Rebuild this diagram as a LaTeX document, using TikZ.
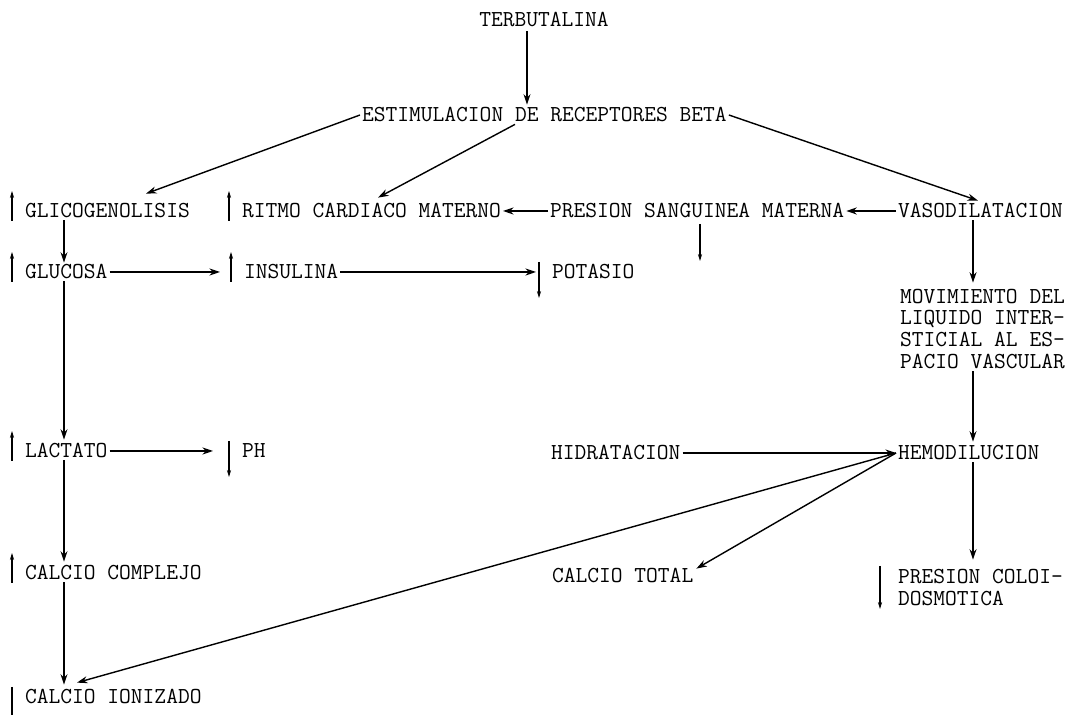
\documentclass[tikz,border=0pt]{standalone}
\usetikzlibrary{arrows.meta,calc}
\begin{document}
\begin{tikzpicture}[x=0.02cm, y=-0.02cm,
    every node/.style={font=\fontsize{13}{12.5}\selectfont\ttfamily, inner sep=1pt, anchor=west},
    flecha/.style={-{Stealth[length=6pt,width=4pt]}, line width=0.8pt},
    sube/.style={-{Stealth[length=4pt,width=2.4pt]}, line width=0.6pt},
    baja/.style={-{Stealth[length=4pt,width=2.4pt]}, line width=0.6pt}]
    \useasboundingbox (0,0) rectangle (1072,715);

    % Texts (left edge, middle of caps)
    \node[anchor=center] (terbu) at (544,20) {TERBUTALINA};
    \node (estim) at (360,115) {ESTIMULACION DE RECEPTORES BETA};
    \node (glico) at (23,211) {GLICOGENOLISIS};
    \node (ritmo) at (240,211) {RITMO CARDIACO MATERNO};
    \node (presion) at (548,211) {PRESION SANGUINEA MATERNA};
    \node (vaso) at (896,211) {VASODILATACION};
    \node (glucosa) at (23,272) {GLUCOSA};
    \node (insulina) at (242,272) {INSULINA};
    \node (potasio) at (550,272) {POTASIO};
    \node[align=left] (movim) at (898,329) {MOVIMIENTO DEL\\LIQUIDO INTER-\\STICIAL AL ES-\\PACIO VASCULAR};
    \node (lactato) at (23,451) {LACTATO};
    \node (ph) at (240,451) {PH};
    \node (hidra) at (549,453) {HIDRATACION};
    \node (hemo) at (896,453) {HEMODILUCION};
    \node (complejo) at (23,573) {CALCIO COMPLEJO};
    \node (total) at (550,576) {CALCIO TOTAL};
    \node[align=left] (coloi) at (896,588) {PRESION COLOI-\\DOSMOTICA};
    \node (ionizado) at (23,697) {CALCIO IONIZADO};

    % Arrows between texts
    \draw[flecha] ($(terbu.south)+(-17,2)$) -- ($(estim.north west)+(167,-1)$);
    \draw[flecha] (estim.west) -- ($(glico.north west)+(123,-8)$);
    \draw[flecha] ($(estim.south west)+(155,0)$) -- ($(ritmo.north west)+(138,-4)$);
    \draw[flecha] (estim.east) -- ($(vaso.north west)+(82,-1)$);
    \draw[flecha] (presion.west) -- (ritmo.east);
    \draw[flecha] (vaso.west) -- (presion.east);
    \draw[flecha] ($(glico.south west)+(41,0)$) -- ($(glucosa.north west)+(41,0)$);
    \draw[flecha] (glucosa.east) -- ($(insulina.west)+(-22,0)$);
    \draw[flecha] (insulina.east) -- ($(potasio.west)+(-14,0)$);
    \draw[flecha] ($(vaso.south west)+(77,0)$) -- ($(movim.north west)+(75,-4)$);
    \draw[flecha] ($(glucosa.south west)+(41,0)$) -- ($(lactato.north west)+(41,-2)$);
    \draw[flecha] (lactato.east) -- ($(ph.west)+(-27,0)$);
    \draw[flecha] ($(movim.south west)+(75,0)$) -- ($(hemo.north west)+(77,-2)$);
    \draw[flecha] (hidra.east) -- (hemo.west);
    \draw[flecha] (hemo.west) -- ($(total.north east)+(1,2)$);
    \draw[flecha] (hemo.west) -- ($(ionizado.north west)+(54,-5)$);
    \draw[flecha] ($(hemo.south west)+(77,0)$) -- ($(coloi.north west)+(77,-8)$);
    \draw[flecha] ($(lactato.south west)+(41,0)$) -- ($(complejo.north west)+(41,-2)$);
    \draw[flecha] ($(complejo.south west)+(41,0)$) -- ($(ionizado.north west)+(41,-3)$);

    % Up / down marks beside the texts
    \foreach \n in {glico, ritmo, glucosa, insulina, lactato, complejo}
        \draw[sube] ($(\n.west)+(-11,10)$) -- ++(0,-30);
    \foreach \n in {potasio, ph, ionizado}
        \draw[baja] ($(\n.west)+(-11,-10)$) -- ++(0,36);
    \draw[baja] ($(presion.west)+(152,13)$) -- ++(0,37);
    \draw[baja] ($(coloi.west)+(-16,-22)$) -- ++(0,43);
\end{tikzpicture}
\end{document}
